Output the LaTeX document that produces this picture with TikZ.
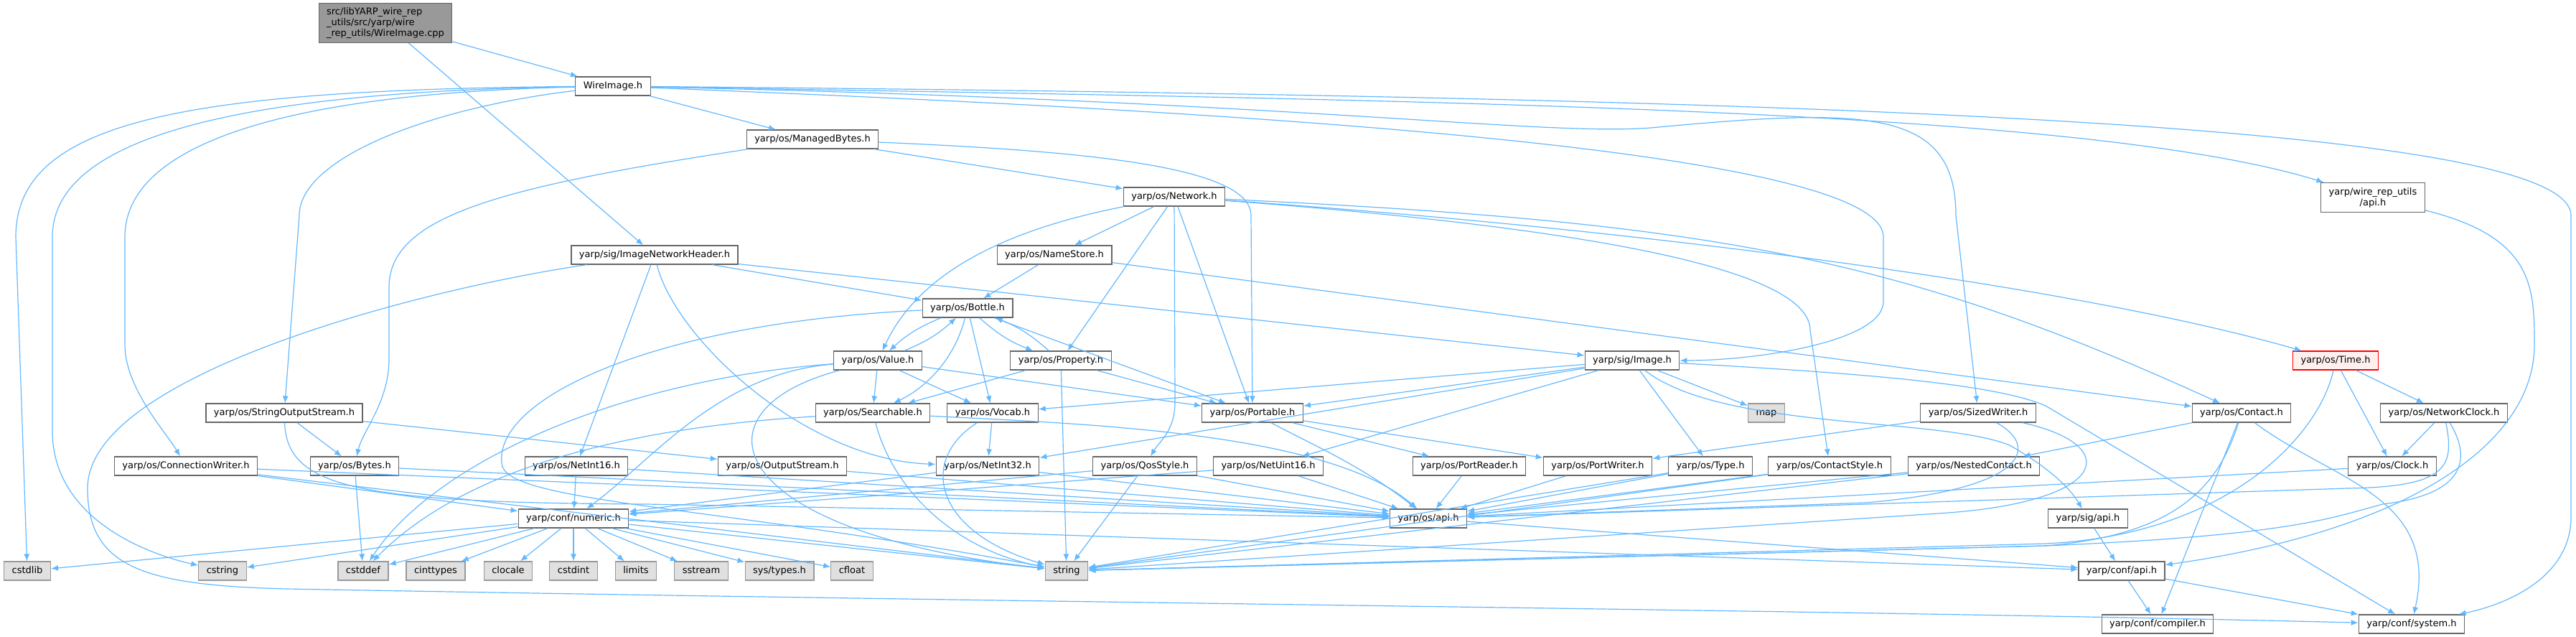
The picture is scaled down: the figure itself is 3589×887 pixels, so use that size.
\documentclass[tikz,border=0pt]{standalone}
\usepackage{fontspec}
\setmainfont{DejaVu Sans}
\usepackage{xcolor}
\usetikzlibrary{arrows.meta, positioning}
\definecolor{edgeblue}{HTML}{63B8FF}
\definecolor{boxgray}{HTML}{666666}
\definecolor{sysgray}{HTML}{999999}
\definecolor{sysfill}{HTML}{E0E0E0}
\definecolor{srcfill}{HTML}{999999}
\definecolor{truncfill}{HTML}{FFF0F0}
\tikzstyle{hdr} = [rectangle, 
draw=boxgray, 
fill=white, 
line width=0.6pt, 
minimum height=13pt, 
inner xsep=5.5pt, inner ysep=0pt, 
text height=5pt, text depth=1.5pt, 
font=\fontsize{6.5}{7.5}\selectfont]
\tikzstyle{sys} = [hdr, draw=sysgray, fill=sysfill]
\tikzstyle{src} = [hdr, fill=srcfill, align=left, text height=, text depth=, minimum height=27.5pt]
\tikzstyle{trunc} = [hdr, draw=red, fill=truncfill]
\tikzstyle{incl} = [draw=edgeblue, line width=0.6pt, -{Latex[length=5pt,width=4pt]}]

\begin{document}
\begin{tikzpicture}[x=0.5pt, y=-0.5pt]
        \useasboundingbox (0,0) rectangle (3589,887);
        % Nodos por fila
        \node [src] (src) at (537,32) {src/libYARP\_wire\_rep\\\_utils/src/yarp/wire\\\_rep\_utils/WireImage.cpp};
        \node [hdr] (wireimage) at (854,120) {WireImage.h};
        \node [hdr] (managedbytes) at (1132,194) {yarp/os/ManagedBytes.h};
        \node [hdr] (network) at (1636,274) {yarp/os/Network.h};
        \node [hdr, align=center, text height=, text depth=, minimum height=20.5pt] (wruapi) at (3306,275) {yarp/wire\_rep\_utils\\/api.h};
        \node [hdr] (imgnethdr) at (912,355) {yarp/sig/ImageNetworkHeader.h};
        \node [hdr] (namestore) at (1469,355) {yarp/os/NameStore.h};
        \node [hdr] (bottle) at (1348,429) {yarp/os/Bottle.h};
        \node [hdr] (value) at (1223,502) {yarp/os/Value.h};
        \node [hdr] (property) at (1478,502) {yarp/os/Property.h};
        \node [hdr] (image) at (2274,502) {yarp/sig/Image.h};
        \node [trunc] (time) at (3254,502) {yarp/os/Time.h};
        \node [hdr] (stringoutputstream) at (396,575) {yarp/os/StringOutputStream.h};
        \node [hdr] (searchable) at (1216,575) {yarp/os/Searchable.h};
        \node [hdr] (vocab) at (1383,575) {yarp/os/Vocab.h};
        \node [hdr] (portable) at (1745,575) {yarp/os/Portable.h};
        \node [sys] (map) at (2461,575) {map};
        \node [hdr] (sizedwriter) at (2756,575) {yarp/os/SizedWriter.h};
        \node [hdr] (contact) at (3123,575) {yarp/os/Contact.h};
        \node [hdr] (networkclock) at (3405,575) {yarp/os/NetworkClock.h};
        \node [hdr] (connectionwriter) at (259,649) {yarp/os/ConnectionWriter.h};
        \node [hdr] (bytes) at (494,649) {yarp/os/Bytes.h};
        \node [hdr] (netint16) at (803,649) {yarp/os/NetInt16.h};
        \node [hdr] (outputstream) at (1090,649) {yarp/os/OutputStream.h};
        \node [hdr] (netint32) at (1376,649) {yarp/os/NetInt32.h};
        \node [hdr] (qosstyle) at (1595,649) {yarp/os/QosStyle.h};
        \node [hdr] (netuint16) at (1767,649) {yarp/os/NetUint16.h};
        \node [hdr] (portreader) at (2047,649) {yarp/os/PortReader.h};
        \node [hdr] (portwriter) at (2226,649) {yarp/os/PortWriter.h};
        \node [hdr] (type) at (2383,649) {yarp/os/Type.h};
        \node [hdr] (contactstyle) at (2549,649) {yarp/os/ContactStyle.h};
        \node [hdr] (nestedcontact) at (2750,649) {yarp/os/NestedContact.h};
        \node [hdr] (clock) at (3333,649) {yarp/os/Clock.h};
        \node [hdr] (numeric) at (799,722) {yarp/conf/numeric.h};
        \node [hdr] (osapi) at (1990,722) {yarp/os/api.h};
        \node [hdr] (sigapi) at (2909,722) {yarp/sig/api.h};
        \node [sys] (cstdlib) at (38,795) {cstdlib};
        \node [sys] (cstring) at (310,795) {cstring};
        \node [sys] (cstddef) at (506,795) {cstddef};
        \node [sys] (cinttypes) at (607,795) {cinttypes};
        \node [sys] (clocale) at (708,795) {clocale};
        \node [sys] (cstdint) at (799,795) {cstdint};
        \node [sys] (limits) at (886,795) {limits};
        \node [sys] (sstream) at (977,795) {sstream};
        \node [sys] (systypes) at (1086,795) {sys/types.h};
        \node [sys] (cfloat) at (1187,795) {cfloat};
        \node [sys] (string) at (1486,795) {string};
        \node [hdr] (confapi) at (2956,795) {yarp/conf/api.h};
        \node [hdr] (compiler) at (3006,869) {yarp/conf/compiler.h};
        \node [hdr] (system) at (3360,869) {yarp/conf/system.h};

        % Conexiones desde el archivo fuente
        \path [incl] (src) -- (wireimage);
        \path [incl] (src) -- (imgnethdr);

        % WireImage.h
        \path [incl] (wireimage) .. controls (250,125) and (22,170) .. (22,330) -- (cstdlib);
        \path [incl] (wireimage) .. controls (300,128) and (73,200) .. (73,330) -- (73,600) .. controls (73,720) and (200,770) .. (cstring);
        \path [incl] (wireimage) .. controls (400,130) and (174,200) .. (174,330) -- (174,480) .. controls (174,540) and (230,600) .. (connectionwriter);
        \path [incl] (wireimage) .. controls (600,150) and (417,220) .. (417,300) -- (stringoutputstream);
        \path [incl] (wireimage) -- (managedbytes);
        \path [incl] (wireimage) .. controls (1600,150) and (2624,200) .. (2624,330) -- (2624,420) .. controls (2624,475) and (2450,502) .. (image);
        \path [incl] (wireimage) .. controls (1800,140) and (2150,190) .. (2300,178) .. controls (2600,150) and (2725,150) .. (2725,300) -- (sizedwriter);
        \path [incl] (wireimage) .. controls (2000,140) and (2900,150) .. (wruapi);
        \path [incl] (wireimage) .. controls (2500,135) and (3582,170) .. (3582,300) -- (3582,720) .. controls (3582,800) and (3500,840) .. (system);

        % ManagedBytes.h y Network.h
        \path [incl] (managedbytes) -- (network);
        \path [incl] (managedbytes) .. controls (1500,210) and (1743,230) .. (1743,300) -- (portable);
        \path [incl] (managedbytes) .. controls (700,260) and (542,300) .. (542,400) -- (542,500) .. controls (542,560) and (505,600) .. (bytes);
        \path [incl] (network) -- (namestore);
        \path [incl] (network) .. controls (1400,320) and (1280,380) .. (value);
        \path [incl] (network) -- (property);
        \path [incl] (network) -- (1637,560) .. controls (1637,600) and (1615,615) .. (qosstyle);
        \path [incl] (network) -- (portable);
        \path [incl] (network) .. controls (2300,320) and (2900,400) .. (time);
        \path [incl] (network) .. controls (2400,310) and (2650,360) .. (contact);
        \path [incl] (network) .. controls (2250,320) and (2522,380) .. (2522,460) -- (contactstyle);
        \path [incl] (namestore) -- (bottle);
        \path [incl] (namestore) -- (contact);

        % ImageNetworkHeader.h
        \path [incl] (imgnethdr) .. controls (600,400) and (122,520) .. (122,680) .. controls (122,790) and (200,815) .. (400,820) .. controls (1500,840) and (2600,850) .. (system);
        \path [incl] (imgnethdr) -- (netint16);
        \path [incl] (imgnethdr) .. controls (940,470) and (1120,640) .. (netint32);
        \path [incl] (imgnethdr) -- (bottle);
        \path [incl] (imgnethdr) -- (image);

        % Bottle.h, Value.h, Property.h
        \path [incl] (bottle) to [bend right=10] (value);
        \path [incl] (value) to [bend right=10] (bottle);
        \path [incl] (bottle) to [bend right=10] (property);
        \path [incl] (property) to [bend right=10] (bottle);
        \path [incl] (bottle) .. controls (1330,500) and (1290,540) .. (searchable);
        \path [incl] (bottle) -- (vocab);
        \path [incl] (bottle) -- (portable);
        \path [incl] (bottle) .. controls (900,450) and (680,560) .. (700,650) .. controls (720,700) and (1000,705) .. (string);
        \path [incl] (value) -- (searchable);
        \path [incl] (value) -- (vocab);
        \path [incl] (value) -- (portable);
        \path [incl] (value) .. controls (1000,520) and (910,640) .. (numeric);
        \path [incl] (value) .. controls (850,530) and (600,650) .. (cstddef);
        \path [incl] (value) .. controls (960,570) and (1000,740) .. (string);
        \path [incl] (property) -- (searchable);
        \path [incl] (property) -- (portable);
        \path [incl] (property) -- (string);

        % Searchable.h, Vocab.h, Portable.h
        \path [incl] (searchable) .. controls (1250,700) and (1350,770) .. (string);
        \path [incl] (searchable) .. controls (800,600) and (620,680) .. (cstddef);
        \path [incl] (searchable) .. controls (1500,590) and (1850,600) .. (osapi);
        \path [incl] (vocab) -- (netint32);
        \path [incl] (vocab) .. controls (1280,640) and (1300,740) .. (string);
        \path [incl] (portable) .. controls (1830,620) and (1900,650) .. (osapi);
        \path [incl] (portable) -- (portreader);
        \path [incl] (portable) -- (portwriter);

        % Image.h
        \path [incl] (image) -- (vocab);
        \path [incl] (image) -- (portable);
        \path [incl] (image) -- (netint32);
        \path [incl] (image) -- (netuint16);
        \path [incl] (image) -- (type);
        \path [incl] (image) -- (map);
        \path [incl] (image) .. controls (2400,600) and (2700,580) .. (2800,620) .. controls (2870,660) and (2890,690) .. (sigapi);
        \path [incl] (image) .. controls (2600,520) and (2780,535) .. (2850,565) -- (system);

        % Time.h y relojes
        \path [incl] (time) -- (clock);
        \path [incl] (time) -- (networkclock);
        \path [incl] (time) .. controls (3230,610) and (3100,745) .. (2850,757) -- (string);
        \path [incl] (networkclock) -- (clock);
        \path [incl] (networkclock) .. controls (3420,650) and (3410,678) .. (3270,680) -- (osapi);
        \path [incl] (networkclock) .. controls (3450,650) and (3420,690) .. (3320,702) .. controls (3250,720) and (3200,745) .. (2850,760) -- (string);
        \path [incl] (clock) -- (osapi);

        % Contact.h y SizedWriter.h
        \path [incl] (contact) -- (nestedcontact);
        \path [incl] (contact) .. controls (3090,680) and (3030,745) .. (2850,760) -- (string);
        \path [incl] (contact) -- (compiler);
        \path [incl] (contact) .. controls (3250,670) and (3400,690) .. (system);
        \path [incl] (sizedwriter) -- (portwriter);
        \path [incl] (sizedwriter) .. controls (2840,620) and (2830,680) .. (2600,700) -- (osapi);
        \path [incl] (sizedwriter) .. controls (2960,620) and (2940,700) .. (2700,715) -- (string);

        % Fila de cabeceras intermedias
        \path [incl] (stringoutputstream) -- (bytes);
        \path [incl] (stringoutputstream) -- (outputstream);
        \path [incl] (stringoutputstream) .. controls (400,680) and (500,700) .. (900,702) -- (osapi);
        \path [incl] (connectionwriter) -- (numeric);
        \path [incl] (connectionwriter) -- (osapi);
        \path [incl] (connectionwriter) -- (string);
        \path [incl] (bytes) -- (cstddef);
        \path [incl] (bytes) -- (osapi);
        \path [incl] (netint16) -- (numeric);
        \path [incl] (netint16) -- (osapi);
        \path [incl] (outputstream) -- (osapi);
        \path [incl] (netint32) -- (numeric);
        \path [incl] (netint32) -- (osapi);
        \path [incl] (qosstyle) -- (numeric);
        \path [incl] (qosstyle) -- (osapi);
        \path [incl] (qosstyle) -- (string);
        \path [incl] (netuint16) -- (numeric);
        \path [incl] (netuint16) -- (osapi);
        \path [incl] (portreader) -- (osapi);
        \path [incl] (portwriter) -- (osapi);
        \path [incl] (type) -- (osapi);
        \path [incl] (type) -- (string);
        \path [incl] (contactstyle) -- (osapi);
        \path [incl] (contactstyle) -- (string);
        \path [incl] (nestedcontact) -- (osapi);
        \path [incl] (nestedcontact) -- (string);

        % numeric.h y cabeceras de sistema
        \path [incl] (numeric) -- (cstdlib);
        \path [incl] (numeric) -- (cstring);
        \path [incl] (numeric) -- (cstddef);
        \path [incl] (numeric) -- (cinttypes);
        \path [incl] (numeric) -- (clocale);
        \path [incl] (numeric) -- (cstdint);
        \path [incl] (numeric) -- (limits);
        \path [incl] (numeric) -- (sstream);
        \path [incl] (numeric) -- (systypes);
        \path [incl] (numeric) -- (cfloat);
        \path [incl] (numeric) -- (string);
        \path [incl] (numeric) -- (confapi);

        % api.h de configuración
        \path [incl] (osapi) -- (confapi);
        \path [incl] (sigapi) -- (confapi);
        \path [incl] (wruapi) .. controls (3530,330) and (3531,400) .. (3531,480) .. controls (3531,620) and (3350,740) .. (confapi);
        \path [incl] (confapi) -- (compiler);
        \path [incl] (confapi) -- (system);
    \end{tikzpicture}
\end{document}
